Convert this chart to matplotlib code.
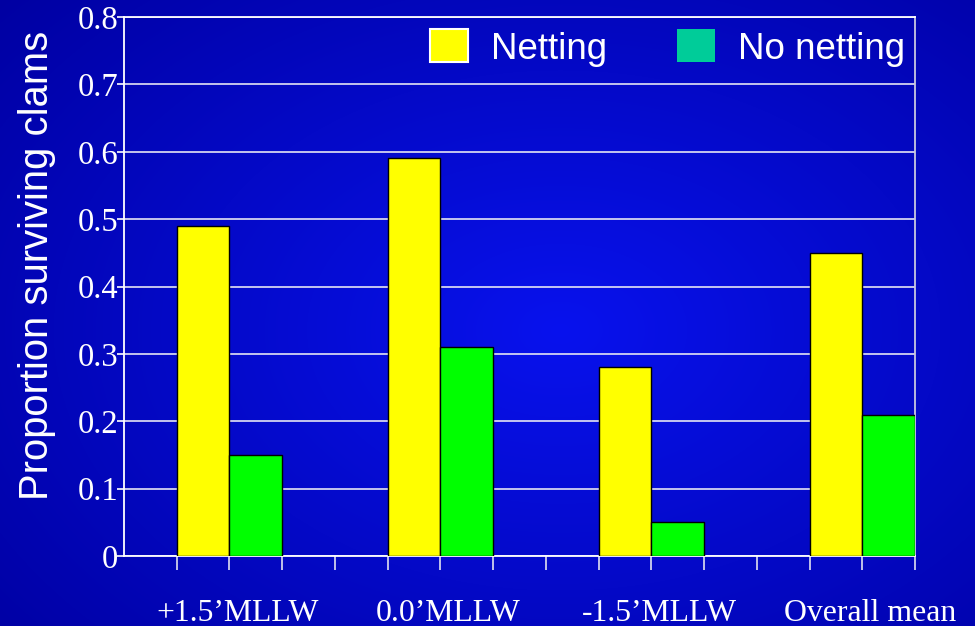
import numpy as np
import matplotlib
matplotlib.use("Agg")
import matplotlib.pyplot as plt
from matplotlib.patches import Patch

# clam survival by tidal height, with and without predator netting
sites = ["+1.5\u2019MLLW", "0.0\u2019MLLW", "-1.5\u2019MLLW", "Overall mean"]
netting = [0.49, 0.59, 0.28, 0.45]
no_netting = [0.15, 0.31, 0.05, 0.21]
y_ticks = [0, 0.1, 0.2, 0.3, 0.4, 0.5, 0.6, 0.7, 0.8]

W, H = 975, 626
fig = plt.figure(figsize=(W / 100, H / 100), dpi=100)

# blue radial backdrop behind everything
bg = fig.add_axes([0, 0, 1, 1], zorder=-10)
yy, xx = np.mgrid[0:H, 0:W]
d = np.sqrt(((xx - 560) / 760.0) ** 2 + ((yy - 330) / 520.0) ** 2)
d = np.clip(d, 0, 1)[..., None]
inner = np.array([8, 18, 238]) / 255.0
outer = np.array([0, 0, 160]) / 255.0
bg.imshow(inner * (1 - d) + outer * d, aspect="auto", interpolation="bilinear")
bg.axis("off")

left, right, top, bottom = 124, 915, 17, 556
ax = fig.add_axes([left / W, 1 - bottom / H, (right - left) / W, (bottom - top) / H])
ax.set_facecolor("none")

serif = "Liberation Serif"
sans = "Liberation Sans"

# each group takes four slots: netting bar, no-netting bar, then a gap
idx = np.arange(len(sites))
ax.bar(4 * idx + 1.5, netting, width=1.0, color="#FFFF00",
       edgecolor="black", linewidth=1.0, zorder=3)
ax.bar(4 * idx + 2.5, no_netting, width=1.0, color="#00FF00",
       edgecolor="black", linewidth=1.0, zorder=3)

ax.set_xlim(0, 15)
ax.set_ylim(0, 0.8)

ax.set_yticks(y_ticks)
ax.set_yticklabels([f"{v:g}" for v in y_ticks])
ax.set_xticks(np.arange(1, 16))
ax.set_xticklabels([])
ax.tick_params(axis="y", direction="out", length=5, width=1.2, color="white",
               labelcolor="white", labelsize=23.5, pad=-1)
ax.tick_params(axis="x", direction="out", length=10, width=1.2, color="#E0E0F0")
for lab in ax.get_yticklabels():
    lab.set_fontfamily(serif)

ax.yaxis.grid(True, color="#E4E4F4", linewidth=1.2, zorder=1)
ax.set_axisbelow(True)
for side in ["left", "bottom", "top"]:
    ax.spines[side].set_color("white")
    ax.spines[side].set_linewidth(1.3)
ax.spines["right"].set_color("#C8C8E0")
ax.spines["right"].set_linewidth(1.3)

# category names sit well below the axis
for i, name in enumerate(sites):
    ax.text(4 * i + 2.15, -0.106, name, transform=ax.get_xaxis_transform(),
            ha="center", va="center", color="white", fontsize=22.9,
            fontfamily=serif)

fig.text(37 / W, 1 - 265 / H, "Proportion surviving clams", rotation=90,
         ha="center", va="center", color="white", fontsize=28.8, fontfamily=sans)

handles = [Patch(facecolor="#FFFF00", edgecolor="white", linewidth=1.5),
           Patch(facecolor="#00CC99", edgecolor="none")]
leg = ax.legend(handles, ["Netting", "No netting"], ncol=2, loc="center right",
                bbox_to_anchor=(0.987, 0.9425), frameon=False,
                prop={"family": sans, "size": 26.5}, handlelength=1.03,
                handleheight=1.0, handletextpad=0.62, columnspacing=1.9,
                borderpad=0, borderaxespad=0)
for t in leg.get_texts():
    t.set_color("white")

fig.savefig("out.png", dpi=100)
